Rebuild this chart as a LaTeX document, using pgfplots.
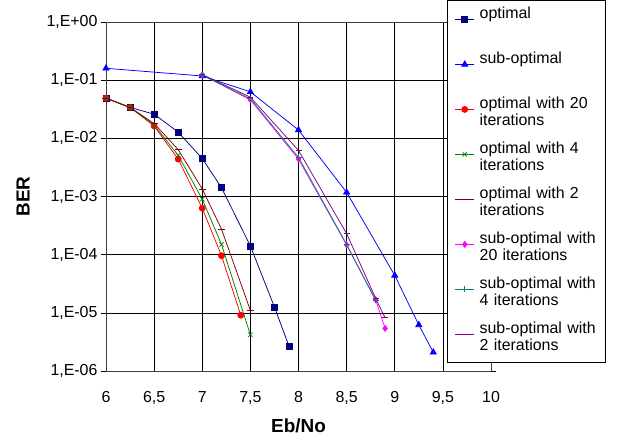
\documentclass[border=0pt]{standalone}
\usepackage{pgfplots}
\pgfplotsset{compat=1.18}
\usepackage{fontspec}
\setmainfont{Liberation Sans}

\definecolor{cnavy}{RGB}{0,0,128}
\definecolor{cblue}{RGB}{0,0,255}
\definecolor{cred}{RGB}{255,0,0}
\definecolor{cgreen}{RGB}{0,128,0}
\definecolor{cdred}{RGB}{128,0,0}
\definecolor{cmag}{RGB}{255,0,255}
\definecolor{cteal}{RGB}{0,128,128}
\definecolor{cpurp}{RGB}{128,0,128}

\begin{document}
\begin{tikzpicture}
\begin{axis}[
    scale only axis,
    width=385bp, height=349bp,
    ymode=log,
    xmin=6, xmax=10,
    ymin=1e-6, ymax=1,
    xtick={6,6.5,7,7.5,8,8.5,9,9.5,10},
    xticklabels={6,{6,5},7,{7,5},8,{8,5},9,{9,5},10},
    ytick={1e-6,1e-5,1e-4,1e-3,1e-2,1e-1,1},
    yticklabels={{1,E-06},{1,E-05},{1,E-04},{1,E-03},{1,E-02},{1,E-01},{1,E+00}},
    yminorticks=false,
    grid=major,
    major grid style={black, line width=0.6bp},
    axis line style={black!75, line width=0.7bp},
    tick align=outside,
    major tick length=5bp,
    xtick style={draw=none},
    ytick style={black, line width=0.6bp},
    ticklabel style={font=\fontsize{16}{19}\selectfont},
    xticklabel style={yshift=-12bp},
    xlabel={\textbf{Eb/No}},
    ylabel={\textbf{BER}},
    xlabel style={font=\fontsize{19}{22}\selectfont, at={(axis description cs:0.5,-0.1748)}, anchor=base},
    ylabel style={font=\fontsize{19}{22}\selectfont, at={(axis description cs:-0.2156,0.5)}, anchor=center},
    every axis plot/.append style={line width=0.75bp},
    legend image code/.code={
        \draw[mark repeat=2, mark phase=2] plot coordinates {(0bp,4.5bp) (9.5bp,4.5bp) (19bp,4.5bp)};
    },
    legend style={
        at={(axis description cs:0.8857,1.063)}, anchor=north west,
        draw=black, fill=white, line width=0.8bp,
        font=\fontsize{16}{17.5}\selectfont,
        nodes={text width=116.5bp, align=left, text height=12bp, text depth=23bp, inner sep=2bp},
        row sep=6bp, column sep=3bp, inner xsep=7.5bp, inner ysep=4bp,
    },
    legend cell align=left,
]
\addplot[color=cnavy, mark=square*, mark size=3bp] coordinates {
    (6,4.9e-2) (6.25,3.4e-2) (6.5,2.6e-2) (6.75,1.28e-2) (7,4.5e-3)
    (7.2,1.42e-3) (7.5,1.41e-4) (7.75,1.26e-5) (7.9,2.7e-6)
};
\addlegendentry{optimal}
\addplot[color=cblue, mark=triangle*, mark size=3.5bp] coordinates {
    (6,0.16) (7,0.118) (7.5,0.063) (8,0.0139) (8.5,1.18e-3)
    (9,4.4e-5) (9.25,6.2e-6) (9.4,2.1e-6)
};
\addlegendentry{sub-optimal}
\addplot[color=cred, mark=*, mark size=3bp] coordinates {
    (6,4.9e-2) (6.25,3.4e-2) (6.5,1.63e-2) (6.75,4.4e-3) (7,6.3e-4)
    (7.2,9.6e-5) (7.4,9.1e-6)
};
\addlegendentry{optimal with 20\\iterations}
\addplot[color=cgreen, mark=x, mark size=3bp] coordinates {
    (6,4.9e-2) (6.25,3.4e-2) (6.5,1.7e-2) (6.75,5.1e-3) (7,9e-4)
    (7.2,1.5e-4) (7.5,4.2e-6)
};
\addlegendentry{optimal with 4\\iterations}
\addplot[color=cdred, mark=-, mark size=3.5bp] coordinates {
    (6,4.9e-2) (6.25,3.4e-2) (6.5,1.8e-2) (6.75,6.4e-3) (7,1.35e-3)
    (7.2,2.75e-4) (7.5,1.1e-5)
};
\addlegendentry{optimal with 2\\iterations}
\addplot[color=cmag, mark=diamond*, mark size=3bp] coordinates {
    (7,0.123) (7.5,4.6e-2) (8,4.4e-3) (8.5,1.47e-4) (8.8,1.7e-5) (8.9,5.4e-6)
};
\addlegendentry{sub-optimal with\\20 iterations}
\addplot[color=cteal, mark=+, mark size=3bp] coordinates {
    (7,0.122) (7.5,4.8e-2) (8,4.7e-3) (8.5,1.5e-4) (8.8,1.65e-5)
};
\addlegendentry{sub-optimal with\\4 iterations}
\addplot[color=cpurp, mark=-, mark size=3bp] coordinates {
    (7,0.125) (7.5,5.1e-2) (8,6.2e-3) (8.5,2.3e-4) (8.8,1.8e-5) (8.9,8.2e-6)
};
\addlegendentry{sub-optimal with\\2 iterations}
\end{axis}
\path (current axis.south west) ++(-106bp,-70bp);
\path (current axis.north east) ++(129bp,22bp);
\end{tikzpicture}
\end{document}
